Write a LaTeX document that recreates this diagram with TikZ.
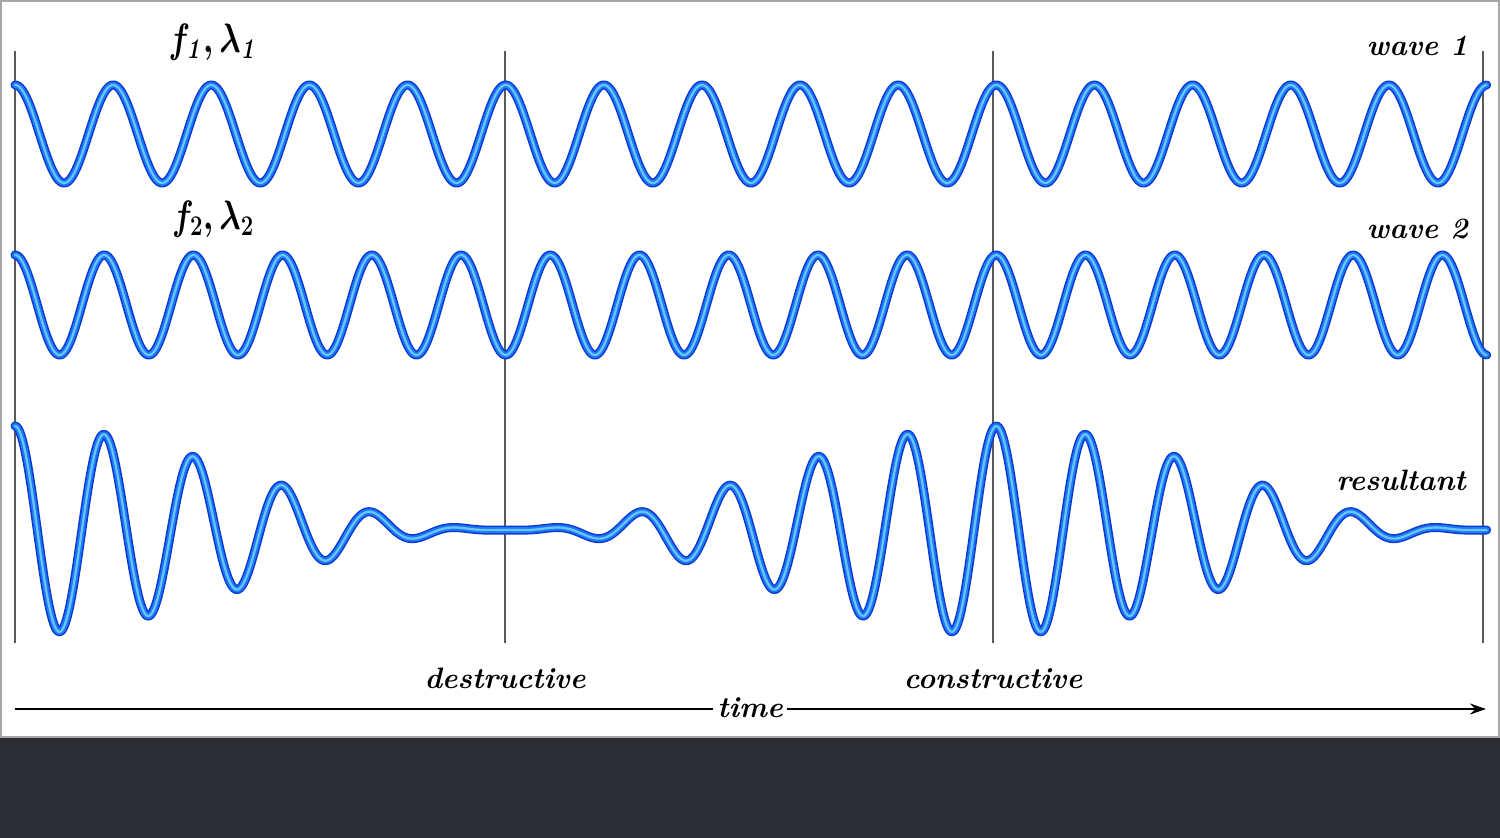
\documentclass[tikz,border=0pt]{standalone}
\usepackage{tikz}
\usetikzlibrary{arrows.meta}
\definecolor{waveouter}{RGB}{15,55,215}
\definecolor{wavemid}{RGB}{25,125,240}
\definecolor{waveinner}{RGB}{110,195,255}
\definecolor{guide}{RGB}{90,90,90}
\definecolor{bar}{RGB}{44,46,51}
\tikzset{
  wo/.style={line width=9pt, draw=waveouter, line cap=round, line join=round},
  wm/.style={line width=6pt, draw=wavemid, line cap=round, line join=round},
  wi/.style={line width=2.2pt, draw=waveinner, line cap=round, line join=round},
  guideline/.style={draw=guide, line width=1.3pt},
  lbl/.style={font=\fontsize{29.5}{33}\selectfont\bfseries\itshape, inner sep=0pt},
  fl/.style={font=\fontsize{24}{28}\selectfont\boldmath, inner sep=0pt, xscale=1.28, yscale=1.65},
}
\newcommand{\wavedraw}[1]{%
  \draw[wo] #1; \draw[wm] #1; \draw[wi] #1;}
\begin{document}
\begin{tikzpicture}[x=1pt,y=-1pt]
\useasboundingbox (0,0) rectangle (1500,838);
\fill[white] (0,0) rectangle (1500,738);
\draw[draw=gray!70, line width=1.5pt] (1,1) rectangle (1499,737);
\fill[bar] (0,738) rectangle (1500,838);
% guide lines
\foreach \gx/\gn in {15/a,505/b,993/c,1483/d}{
  \coordinate (top\gn) at (\gx,51);
  \coordinate (bot\gn) at (\gx,643);
  \draw[guideline] (top\gn) -- (bot\gn);
}
% wave 1
\wavedraw{plot[domain=0:1, samples=900] ({15+1472*\x},{134-49*cos(5400*\x)})}
% wave 2
\wavedraw{plot[domain=0:1, samples=900] ({15+1472*\x},{305-50*cos(5940*\x)})}
% resultant
\wavedraw{plot[domain=0:1, samples=900] ({15+1472*\x},{530-104*cos(270*\x)*cos(270*\x)*cos(5940*\x)})}
% labels
\node[fl, anchor=base] (f1) at (213,52) {$f_{\mathit{1}},\lambda_{\mathit{1}}$};
\node[fl, anchor=base] (f2) at (213,229) {$f_2,\lambda_2$};
\node[lbl, anchor=base east] (w1) at (1468,55) {wave 1};
\node[lbl, anchor=base east] (w2) at (1468,238) {wave 2};
\node[lbl, anchor=base east] (res) at (1466,490) {resultant};
\node[lbl, anchor=base] (des) at (505,688) {destructive};
\node[lbl, anchor=base] (con) at (993,688) {constructive};
% time axis
\coordinate (ts) at (15,709);
\coordinate (te) at (1486,709);
\draw[line width=1.8pt, -{Stealth[length=16pt,width=11pt]}] (ts) -- (te);
\node[lbl, anchor=base, fill=white, inner xsep=4pt, inner ysep=0pt] (time) at (750,717) {time};
\end{tikzpicture}
\end{document}
